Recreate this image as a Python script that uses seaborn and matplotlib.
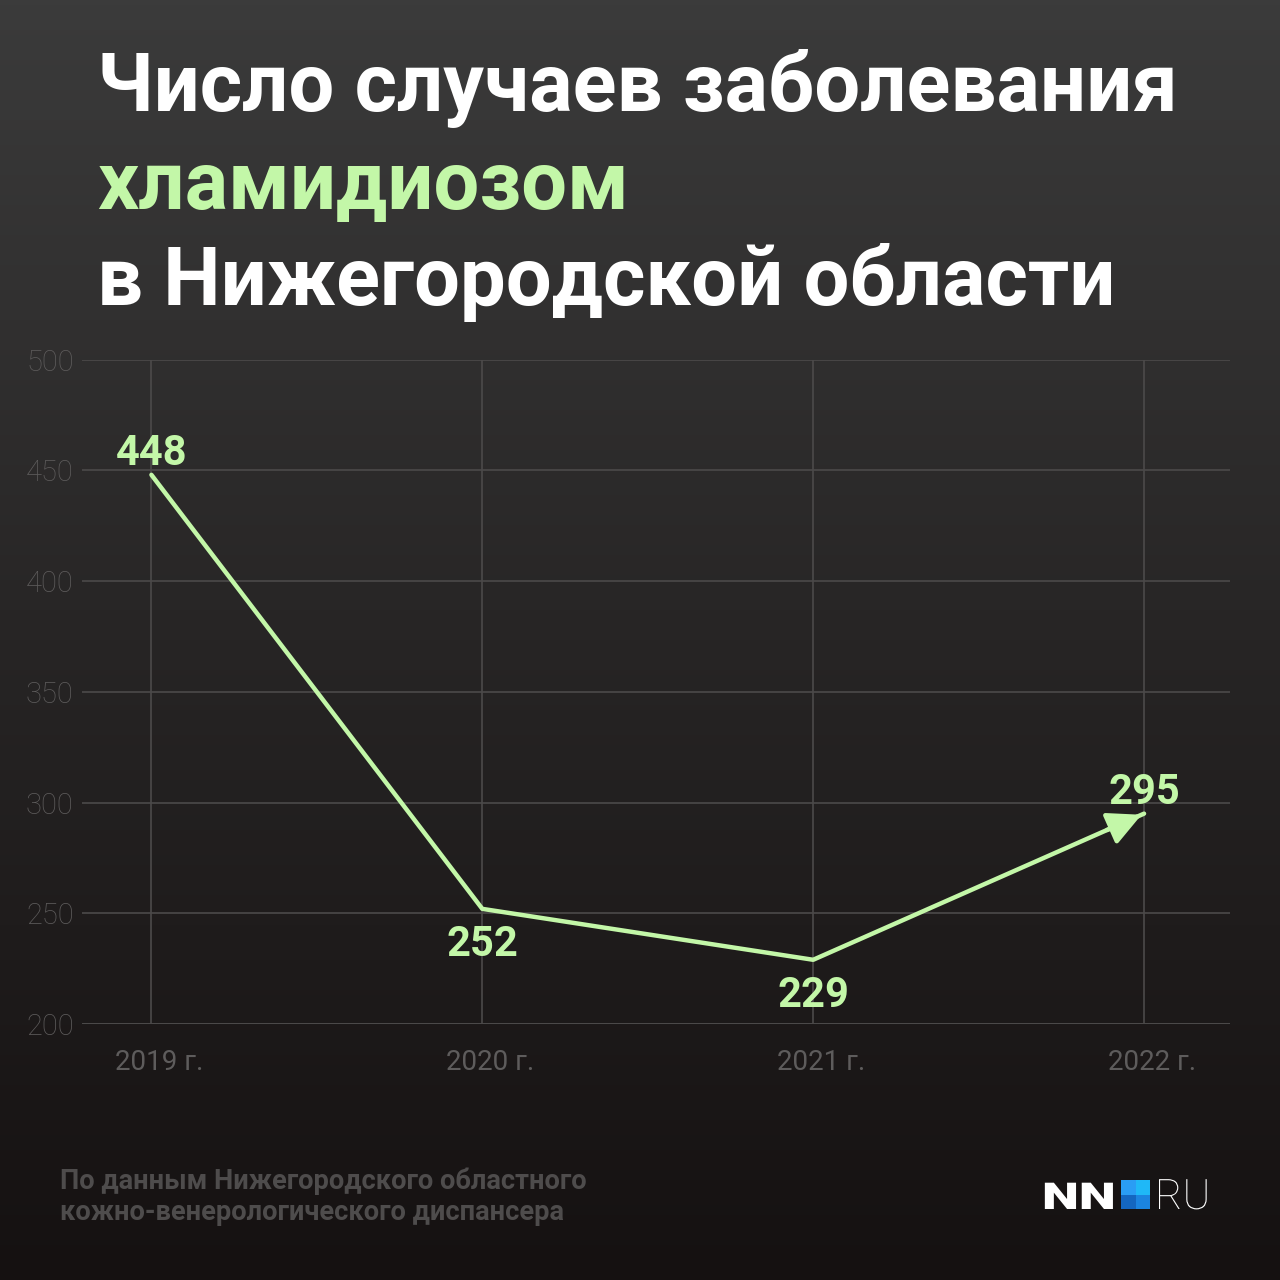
import numpy as np
import pandas as pd
import seaborn as sns
import matplotlib.pyplot as plt
import matplotlib.transforms as mtransforms
from matplotlib.patches import Rectangle, PathPatch
from matplotlib.colors import LinearSegmentedColormap
from matplotlib.textpath import TextPath
from matplotlib.font_manager import FontProperties

years = ["2019 г.", "2020 г.", "2021 г.", "2022 г."]
cases = [448, 252, 229, 295]
label_pos = ["above", "below", "below", "above"]
y_ticks = [200, 250, 300, 350, 400, 450, 500]

df = pd.DataFrame({"year": years, "cases": cases, "x": range(len(years))})

green = "#c3f7a8"
grid_col = "#4c4a4a"
tick_col = "#5e5c5c"

sns.set_theme(style="dark")
plt.rcParams["font.family"] = ["Roboto", "DejaVu Sans"]

fig = plt.figure(figsize=(12.8, 12.8), dpi=100)

# background gradient
bg = fig.add_axes([0, 0, 1, 1])
grad = np.linspace(0, 1, 256).reshape(-1, 1)
cmap = LinearSegmentedColormap.from_list("bg", ["#3b3b3b", "#272525", "#151111"])
bg.imshow(grad, aspect="auto", cmap=cmap, extent=[0, 1, 0, 1])
bg.set_axis_off()

ax = fig.add_axes([0.064, 0.2, 0.897, 0.519])
ax.set_facecolor("none")
sns.lineplot(data=df, x="x", y="cases", ax=ax, color=green, linewidth=3.2, zorder=3)
ax.annotate("", xy=(df["x"].iloc[-1], cases[-1]),
            xytext=(df["x"].iloc[-1] - 0.12, cases[-1] - 0.12 * (cases[-1] - cases[-2])),
            arrowprops=dict(arrowstyle="-|>,head_length=1.7,head_width=0.85", color=green, lw=3.2),
            zorder=4)

for i, (v, pos) in enumerate(zip(cases, label_pos)):
    off = 15.5 if pos == "above" else -26
    ax.annotate(str(v), (i, v), xytext=(0, off), textcoords="offset points",
                ha="center", va="center", color=green, fontsize=30, fontweight="bold", zorder=5)

ax.set_xlim(-0.21, 3.26)
ax.set_ylim(200, 500)
ax.set_yticks(y_ticks)
ax.set_xticks(range(len(years)))
ax.set_xticklabels(years)
ax.grid(True, color=grid_col, linewidth=1.2)
for s in ax.spines.values():
    s.set_visible(False)
ax.axhline(200, color=grid_col, linewidth=2, zorder=2)
ax.tick_params(axis="y", colors=tick_col, labelsize=21, pad=6, length=0)
ax.tick_params(axis="x", colors=tick_col, labelsize=20, pad=18, length=0)
for lbl in ax.get_yticklabels():
    lbl.set_fontweight("light")
shift = mtransforms.ScaledTranslation(0.08, 0, fig.dpi_scale_trans)
for lbl in ax.get_xticklabels():
    lbl.set_transform(lbl.get_transform() + shift)
ax.set_xlabel("")
ax.set_ylabel("")

# title
fig.text(97 / 1280, 1 - 89 / 1280, "Число случаев заболевания", color="white",
         fontsize=58.5, fontweight="bold", va="center", ha="left")
fig.text(97 / 1280, 1 - 187 / 1280, "хламидиозом", color=green,
         fontsize=58.5, fontweight="bold", va="center", ha="left")
fig.text(97 / 1280, 1 - 282 / 1280, "в Нижегородской области", color="white",
         fontsize=58.5, fontweight="bold", va="center", ha="left")

# source
fig.text(60 / 1280, 1 - 1181 / 1280, "По данным Нижегородского областного", color="#4e4c4c",
         fontsize=19.6, fontweight="bold", va="center", ha="left")
fig.text(60 / 1280, 1 - 1213 / 1280, "кожно-венерологического диспансера", color="#4e4c4c",
         fontsize=19.6, fontweight="bold", va="center", ha="left")

# logo: wide "NN", blue square, light "RU"
nn_path = TextPath((0, 0), "NN", size=37, prop=FontProperties(family="Roboto", weight="black"))
nn_tr = mtransforms.Affine2D().scale(1.42, 1.0).translate(1042, 1280 - 1209)
fig.add_artist(PathPatch(nn_path, facecolor="white", edgecolor="none",
                         transform=nn_tr, figure=fig))
sq = 14.5 / 1280
x0, y0 = 1121 / 1280, 1 - 1209 / 1280
for (dx, dy, c) in [(0, 1, "#2a9df4"), (1, 1, "#1fb8f7"), (0, 0, "#1466c0"), (1, 0, "#1b84e0")]:
    fig.add_artist(Rectangle((x0 + dx * sq, y0 + dy * sq), sq, sq, color=c,
                             transform=fig.transFigure, linewidth=0))
ru_path = TextPath((0, 0), "RU", size=42, prop=FontProperties(family="Roboto", weight="light"))
ru_tr = mtransforms.Affine2D().translate(1155, 1280 - 1209)
fig.add_artist(PathPatch(ru_path, facecolor="white", edgecolor="none",
                         transform=ru_tr, figure=fig))

fig.savefig("out.png", dpi=100)
